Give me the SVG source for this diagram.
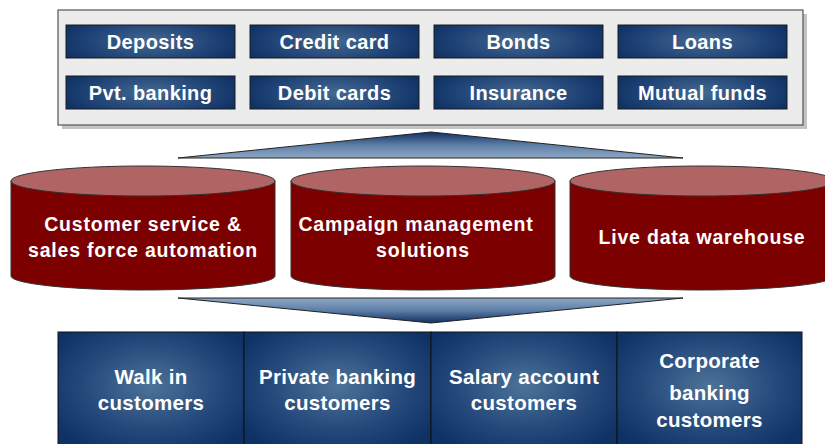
<svg xmlns="http://www.w3.org/2000/svg" width="825" height="444" viewBox="0 0 825 444">
<defs>
<radialGradient id="btn" cx="0.5" cy="0.5" r="0.6" gradientTransform="translate(0.5 0.5) scale(1 1.6) translate(-0.5 -0.5)">
<stop offset="0" stop-color="#44698f"/>
<stop offset="0.55" stop-color="#24477a"/>
<stop offset="1" stop-color="#0b2d60"/>
</radialGradient>
<radialGradient id="box" cx="0.5" cy="0.45" r="0.62">
<stop offset="0" stop-color="#4d7398"/>
<stop offset="0.6" stop-color="#24487a"/>
<stop offset="1" stop-color="#0e3265"/>
</radialGradient>
<linearGradient id="up" x1="0" y1="0" x2="0" y2="1">
<stop offset="0" stop-color="#0f2f62"/>
<stop offset="0.5" stop-color="#5d7ea6"/>
<stop offset="1" stop-color="#8ea8c6"/>
</linearGradient>
<linearGradient id="down" x1="0" y1="0" x2="0" y2="1">
<stop offset="0" stop-color="#8ea8c6"/>
<stop offset="0.5" stop-color="#5d7ea6"/>
<stop offset="1" stop-color="#0f2f62"/>
</linearGradient>
</defs>
<style>
.btn{fill:url(#btn);stroke:#1a1a1a;stroke-width:1}
.bt{font-family:"Liberation Sans",Arial,sans-serif;font-weight:bold;font-size:20px;fill:#fff;text-anchor:middle;letter-spacing:0.4px}
.cyl-body{fill:#7d0000;stroke:#333;stroke-width:1}
.cyl-top{fill:#b06464;stroke:#333;stroke-width:1}
.ct{font-family:"Liberation Sans",Arial,sans-serif;font-weight:bold;font-size:19.5px;fill:#fff;text-anchor:middle;letter-spacing:0.8px}
.box{fill:url(#box);stroke:#111;stroke-width:1}
.xt{font-family:"Liberation Sans",Arial,sans-serif;font-weight:bold;font-size:20.5px;fill:#fff;text-anchor:middle;letter-spacing:0.3px}
.wedge{stroke:#222;stroke-width:1}
</style>
<rect width="825" height="444" fill="#fff"/>

<g id="products-panel">
<rect x="62" y="14" width="745" height="115" fill="#c4c4c4"/>
<rect x="58" y="10" width="745" height="115" fill="#ececec" stroke="#555" stroke-width="1.2"/>
</g>
<g id="deposits"><rect class="btn" x="66" y="25" width="169" height="33"/><text class="bt" x="150.5" y="49">Deposits</text></g>
<g id="credit-card"><rect class="btn" x="250" y="25" width="169" height="33"/><text class="bt" x="334.5" y="49">Credit card</text></g>
<g id="bonds"><rect class="btn" x="434" y="25" width="169" height="33"/><text class="bt" x="518.5" y="49">Bonds</text></g>
<g id="loans"><rect class="btn" x="618" y="25" width="169" height="33"/><text class="bt" x="702.5" y="49">Loans</text></g>
<g id="pvt-banking"><rect class="btn" x="66" y="76" width="169" height="33"/><text class="bt" x="150.5" y="100">Pvt. banking</text></g>
<g id="debit-cards"><rect class="btn" x="250" y="76" width="169" height="33"/><text class="bt" x="334.5" y="100">Debit cards</text></g>
<g id="insurance"><rect class="btn" x="434" y="76" width="169" height="33"/><text class="bt" x="518.5" y="100">Insurance</text></g>
<g id="mutual-funds"><rect class="btn" x="618" y="76" width="169" height="33"/><text class="bt" x="702.5" y="100">Mutual funds</text></g>

<g id="connectors">
<polygon class="wedge" points="178,158 431,132 683,158" fill="url(#up)"/>
<polygon class="wedge" points="178,298 683,298 431,323" fill="url(#down)"/>
</g>

<g id="cyl-customer-service">
<path class="cyl-body" d="M11,181 L11,276 A132,14 0 0 0 275,276 L275,181 Z"/>
<ellipse class="cyl-top" cx="143" cy="181" rx="132" ry="15"/>
<text class="ct" x="143" y="231">Customer service &amp;</text>
<text class="ct" x="143" y="257">sales force automation</text>
</g>
<g id="cyl-campaign">
<path class="cyl-body" d="M291,181 L291,276 A132,14 0 0 0 555,276 L555,181 Z"/>
<ellipse class="cyl-top" cx="423" cy="181" rx="132" ry="15"/>
<text class="ct" x="416" y="231">Campaign management</text>
<text class="ct" x="423" y="257">solutions</text>
</g>
<g id="cyl-live-data">
<path class="cyl-body" d="M570,181 L570,276 A132,14 0 0 0 834,276 L834,181 Z"/>
<ellipse class="cyl-top" cx="702" cy="181" rx="132" ry="15"/>
<text class="ct" x="702" y="244">Live data warehouse</text>
</g>

<g id="walk-in"><rect class="box" x="58" y="332" width="186" height="120"/><text class="xt" x="151" y="384">Walk in</text><text class="xt" x="151" y="410">customers</text></g>
<g id="private-banking"><rect class="box" x="244" y="332" width="187" height="120"/><text class="xt" x="337.5" y="384">Private banking</text><text class="xt" x="337.5" y="410">customers</text></g>
<g id="salary-account"><rect class="box" x="431" y="332" width="186" height="120"/><text class="xt" x="524" y="384">Salary account</text><text class="xt" x="524" y="410">customers</text></g>
<g id="corporate"><rect class="box" x="617" y="332" width="185" height="120"/><text class="xt" x="709.5" y="368">Corporate</text><text class="xt" x="709.5" y="400">banking</text><text class="xt" x="709.5" y="427">customers</text></g>
</svg>
